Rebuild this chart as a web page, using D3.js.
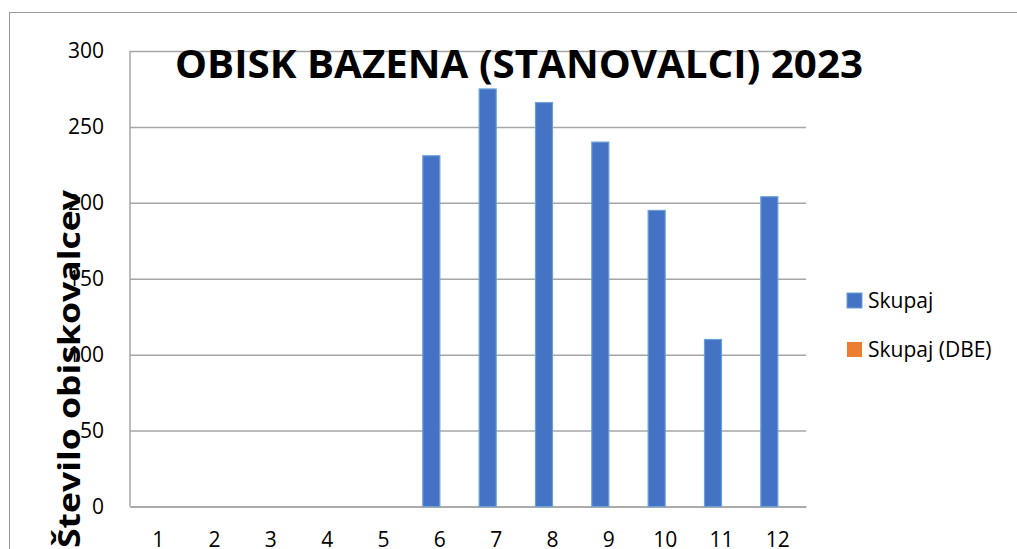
<!DOCTYPE html>
<html>
<head>
<meta charset="utf-8">
<script src="https://cdn.jsdelivr.net/npm/d3@7"></script>
<style>
  body { margin: 0; background: #fff; }
  svg { display: block; }
</style>
</head>
<body>
<div id="chart"></div>
<script>
// Chart data
const months = ['1', '2', '3', '4', '5', '6', '7', '8', '9', '10', '11', '12'];
const skupaj = [0, 0, 0, 0, 0, 231, 275, 266, 240, 195, 110, 204];
const skupajDBE = [0, 0, 0, 0, 0, 0, 0, 0, 0, 0, 0, 0];
const seriesNames = ['Skupaj', 'Skupaj (DBE)'];
const seriesColors = ['#4472C4', '#ED7D31'];
const yTicks = [0, 50, 100, 150, 200, 250, 300];
const titleText = 'OBISK BAZENA (STANOVALCI) 2023';
const yLabel = 'Število obiskovalcev';

const W = 1017, H = 549;
const margin = { top: 51, right: 211, bottom: 42, left: 130 };
const width = W - margin.left - margin.right;
const height = 506.5 - margin.top;
const font = 'Open Sans, sans-serif';

const svg = d3.select('#chart')
    .append('svg')
    .attr('width', W)
    .attr('height', H);

// Outer chart border (runs off the right and bottom edge)
svg.append('rect')
    .attr('x', 9.5)
    .attr('y', 12.5)
    .attr('width', 1100)
    .attr('height', 700)
    .attr('fill', 'none')
    .attr('stroke', '#999');

const g = svg.append('g')
    .attr('transform', `translate(${margin.left},${margin.top})`);

// Scales
const x0 = d3.scaleBand()
    .domain(months)
    .range([0, width])
    .padding(0);

const groupW = x0.bandwidth() * 0.604;
const x1 = d3.scaleBand()
    .domain(seriesNames)
    .range([(x0.bandwidth() - groupW) / 2, (x0.bandwidth() + groupW) / 2]);

const y = d3.scaleLinear()
    .domain([0, 300])
    .range([height, 0]);

// Y axis with gridlines
const yAxis = g.append('g')
    .call(d3.axisLeft(y).tickValues(yTicks).tickSize(-width).tickPadding(26));
yAxis.select('.domain').remove();
yAxis.selectAll('line').attr('stroke', '#a6a6a6').attr('stroke-width', 1.5);
yAxis.selectAll('text')
    .style('font-family', font)
    .style('font-size', '21px')
    .attr('fill', '#000');

// Left axis line
g.append('line')
    .attr('x1', 0).attr('x2', 0)
    .attr('y1', 0).attr('y2', height)
    .attr('stroke', '#a6a6a6')
    .attr('stroke-width', 1.5);

// X axis labels
const xAxis = g.append('g')
    .attr('transform', `translate(0,${height})`)
    .call(d3.axisBottom(x0).tickSize(0).tickPadding(26));
xAxis.select('.domain').attr('stroke', '#a6a6a6').attr('stroke-width', 1.5);
xAxis.selectAll('text')
    .style('font-family', font)
    .style('font-size', '21px')
    .attr('fill', '#000');

// Bars
const data = months.map((m, i) => ({ month: m, values: [skupaj[i], skupajDBE[i]] }));

const groups = g.selectAll('.month')
    .data(data)
    .enter()
    .append('g')
    .attr('class', 'month')
    .attr('transform', d => `translate(${x0(d.month)},0)`);

groups.selectAll('rect')
    .data(d => d.values.map((v, i) => ({ key: seriesNames[i], value: v, color: seriesColors[i] })))
    .enter()
    .filter(d => d.value > 0)
    .append('rect')
    .attr('x', d => x1(d.key))
    .attr('width', x1.bandwidth())
    .attr('y', d => y(d.value))
    .attr('height', d => height - y(d.value))
    .attr('fill', d => d.color)
    .attr('stroke', '#6a9fd8')
    .attr('stroke-width', 1.2);

// Title
svg.append('text')
    .attr('x', 519)
    .attr('y', 78)
    .attr('text-anchor', 'middle')
    .attr('textLength', 688)
    .attr('lengthAdjust', 'spacingAndGlyphs')
    .style('font-family', font)
    .style('font-weight', 'bold')
    .style('font-size', '40px')
    .text(titleText);

// Y label
svg.append('text')
    .attr('transform', 'translate(80,369) rotate(-90)')
    .attr('text-anchor', 'middle')
    .attr('textLength', 358)
    .attr('lengthAdjust', 'spacingAndGlyphs')
    .style('font-family', font)
    .style('font-weight', 'bold')
    .style('font-size', '31px')
    .text(yLabel);

// Legend
const legend = svg.append('g')
    .attr('transform', 'translate(847,293)');

const items = legend.selectAll('.item')
    .data(seriesNames)
    .enter()
    .append('g')
    .attr('class', 'item')
    .attr('transform', (d, i) => `translate(0,${i * 49})`);

items.append('rect')
    .attr('width', 15)
    .attr('height', 15)
    .attr('fill', (d, i) => seriesColors[i])
    .attr('stroke', (d, i) => i === 0 ? '#6a9fd8' : 'none');

items.append('text')
    .attr('x', 21)
    .attr('y', 15)
    .style('font-family', font)
    .style('font-size', '21px')
    .text(d => d);
</script>
</body>
</html>
